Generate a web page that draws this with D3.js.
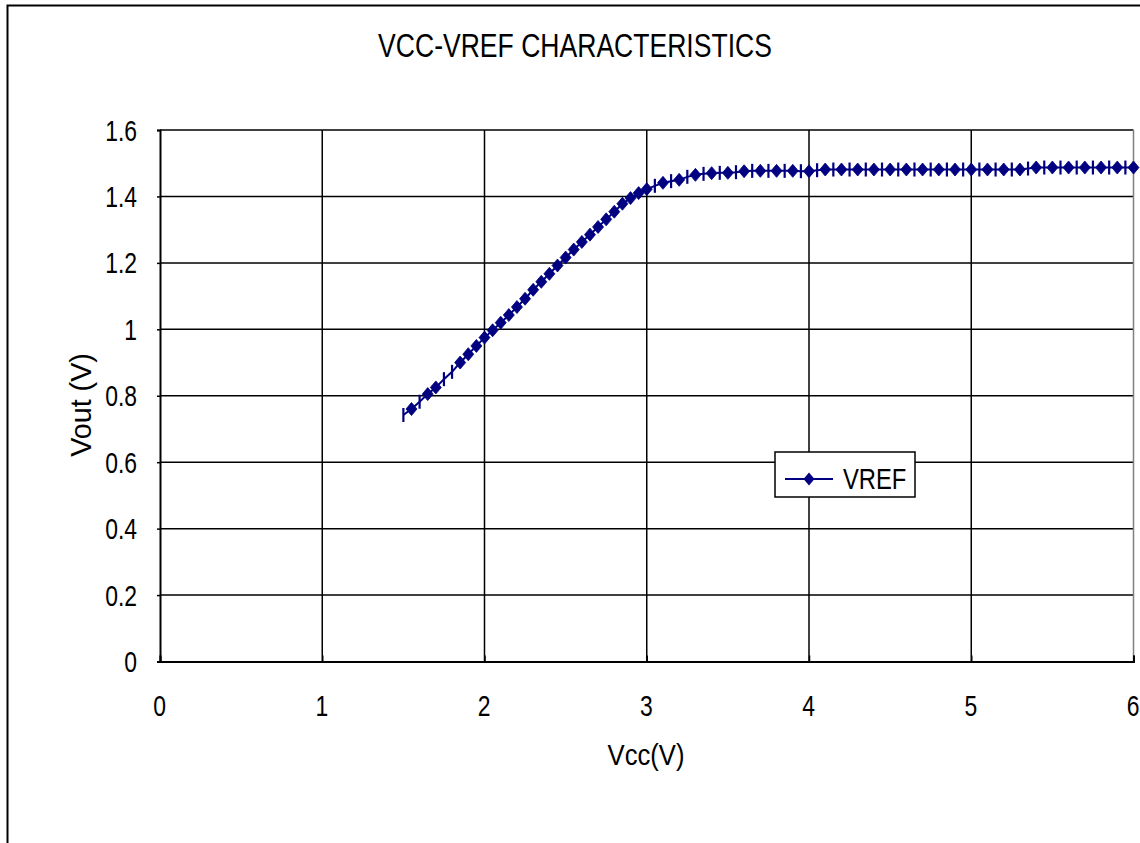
<!DOCTYPE html>
<html>
<head>
<meta charset="utf-8">
<script src="https://cdn.jsdelivr.net/npm/d3@7/dist/d3.min.js"></script>
<style>
  html, body { margin: 0; padding: 0; background: #fff; }
  svg { display: block; }
  text { font-family: "Liberation Sans", Arial, sans-serif; fill: #000; }
</style>
</head>
<body>
<svg id="chart" width="1140" height="843"></svg>
<script>
// ---- data ----
const chartTitle = "VCC-VREF CHARACTERISTICS";
const xTitle = "Vcc(V)";
const yTitle = "Vout (V)";
const seriesName = "VREF";
const xTicks = [0, 1, 2, 3, 4, 5, 6];
const yTicks = [0, 0.2, 0.4, 0.6, 0.8, 1, 1.2, 1.4, 1.6];

// points drawn with diamond markers
const vccDiamond = [1.55, 1.65, 1.70, 1.85, 1.90, 1.95, 2.00, 2.05, 2.10, 2.15, 2.20, 2.25, 2.30, 2.35,
  2.40, 2.45, 2.50, 2.55, 2.60, 2.65, 2.70, 2.75, 2.80, 2.85, 2.90, 2.95, 3.00,
  3.10, 3.20, 3.30, 3.40, 3.50, 3.60, 3.70, 3.80, 3.90, 4.00, 4.10, 4.20, 4.30, 4.40, 4.50,
  4.60, 4.70, 4.80, 4.90, 5.00, 5.10, 5.20, 5.30, 5.40, 5.50, 5.60, 5.70, 5.80, 5.90, 6.00];
const voutDiamond = [0.760, 0.805, 0.825, 0.900, 0.925, 0.950, 0.975, 0.997, 1.020, 1.043, 1.067, 1.092, 1.119, 1.143,
  1.167, 1.192, 1.216, 1.240, 1.263, 1.285, 1.308, 1.331, 1.354, 1.378, 1.395, 1.410, 1.422,
  1.441, 1.450, 1.465, 1.470, 1.471, 1.476, 1.477, 1.477, 1.477, 1.476, 1.481, 1.481, 1.481, 1.481, 1.481,
  1.481, 1.481, 1.481, 1.481, 1.481, 1.481, 1.481, 1.481, 1.487, 1.487, 1.487, 1.487, 1.487, 1.487, 1.487];

// points drawn with short vertical bar markers
const vccBar = [1.50, 1.60, 1.75, 1.80, 3.05, 3.15, 3.25, 3.35, 3.45, 3.55, 3.65, 3.75, 3.85, 3.95,
  4.05, 4.15, 4.25, 4.35, 4.45, 4.55, 4.65, 4.75, 4.85, 4.95, 5.05, 5.15, 5.25, 5.35,
  5.45, 5.55, 5.65, 5.75, 5.85, 5.95];
const voutBar = [0.742, 0.782, 0.850, 0.872, 1.432, 1.446, 1.459, 1.468, 1.471, 1.473, 1.477, 1.477, 1.477, 1.476,
  1.479, 1.481, 1.481, 1.481, 1.481, 1.481, 1.481, 1.481, 1.481, 1.481, 1.481, 1.481, 1.481, 1.484,
  1.487, 1.487, 1.487, 1.487, 1.487, 1.487];

// ---- drawing ----
const svg = d3.select("#chart");
const plot = { left: 160, top: 130, right: 1133.5, bottom: 661.5 };
const x = d3.scaleLinear().domain([0, 6]).range([plot.left, plot.right]);
const y = d3.scaleLinear().domain([0, 1.6]).range([plot.bottom, plot.top]);
const navy = "#000080";
const fontSize = 29;
const narrow = 0.79;

// outer chart border (extends beyond view at right/bottom)
svg.append("rect").attr("x", 7.5).attr("y", 5.5).attr("width", 1200).attr("height", 900)
  .attr("fill", "#fff").attr("stroke", "#000").attr("stroke-width", 2);

// gridlines
svg.append("g").selectAll("line").data(yTicks.slice(1)).join("line")
  .attr("x1", plot.left).attr("x2", plot.right)
  .attr("y1", d => y(d)).attr("y2", d => y(d))
  .attr("stroke", "#000").attr("stroke-width", 1.5);
svg.append("g").selectAll("line").data(xTicks.slice(1, -1)).join("line")
  .attr("y1", plot.top).attr("y2", plot.bottom)
  .attr("x1", d => x(d)).attr("x2", d => x(d))
  .attr("stroke", "#000").attr("stroke-width", 1.5);

// plot border right (gray)
svg.append("line").attr("x1", plot.right).attr("x2", plot.right)
  .attr("y1", plot.top).attr("y2", plot.bottom).attr("stroke", "#808080").attr("stroke-width", 1.5);

// axes
const yAxis = d3.axisLeft(y).tickValues(yTicks).tickSize(3).tickFormat(d => d3.format("~g")(d));
const xAxis = d3.axisBottom(x).tickValues(xTicks).tickSize(-6).tickFormat(d3.format("d"));

const gy = svg.append("g").attr("transform", `translate(${plot.left},0)`).call(yAxis);
const gx = svg.append("g").attr("transform", `translate(0,${plot.bottom})`).call(xAxis);
[gx, gy].forEach(g => {
  g.select(".domain").attr("stroke", "#000").attr("stroke-width", 2);
  g.selectAll(".tick line").attr("stroke", "#000").attr("stroke-width", 1.5);
  g.selectAll(".tick text").attr("font-size", fontSize).attr("fill", "#000")
    .style("font-family", "'Liberation Sans', Arial, sans-serif");
});
gy.selectAll(".tick text").attr("x", 0).attr("dy", null).attr("y", 0)
  .attr("text-anchor", "end")
  .attr("transform", `translate(-23,10) scale(${narrow},1)`);
gx.selectAll(".tick text").attr("x", 0).attr("dy", null).attr("y", 0)
  .attr("transform", `translate(-1,54.5) scale(${narrow},1)`);

// series data merged for the line
const pts = vccDiamond.map((v, i) => ({ x: v, y: voutDiamond[i], m: "d" }))
  .concat(vccBar.map((v, i) => ({ x: v, y: voutBar[i], m: "b" })))
  .sort((a, b) => a.x - b.x);

const line = d3.line().x(d => x(d.x)).y(d => y(d.y));
svg.append("path").datum(pts).attr("d", line)
  .attr("fill", "none").attr("stroke", navy).attr("stroke-width", 2);

// bar markers
svg.append("g").selectAll("line").data(pts.filter(p => p.m === "b")).join("line")
  .attr("x1", d => x(d.x)).attr("x2", d => x(d.x))
  .attr("y1", d => y(d.y) - 7).attr("y2", d => y(d.y) + 7)
  .attr("stroke", navy).attr("stroke-width", 2.2);

// diamond markers
const diamond = (cx, cy, w, h) => `M${cx},${cy - h}L${cx + w},${cy}L${cx},${cy + h}L${cx - w},${cy}Z`;
svg.append("g").selectAll("path").data(pts.filter(p => p.m === "d")).join("path")
  .attr("d", d => diamond(x(d.x), y(d.y), 5.5, 6.5))
  .attr("fill", navy).attr("stroke", navy).attr("stroke-width", 0.8);

// text helper: condensed look via horizontal scale
function label(str, tx, ty, size, sx, anchor, rot) {
  return svg.append("text")
    .attr("transform", `translate(${tx},${ty})${rot ? ` rotate(${rot})` : ""} scale(${sx},1)`)
    .attr("text-anchor", anchor).attr("font-size", size).text(str);
}

// title and axis titles
label(chartTitle, 575, 57, 33, 0.805, "middle");
label(xTitle, 646, 765, fontSize, 0.885, "middle");
label(yTitle, 91, 405, fontSize, 0.99, "middle", -90);

// legend
const lg = svg.append("g");
lg.append("rect").attr("x", 775).attr("y", 452).attr("width", 140).attr("height", 45)
  .attr("fill", "#fff").attr("stroke", "#000").attr("stroke-width", 1.5);
lg.append("line").attr("x1", 785).attr("x2", 833).attr("y1", 479).attr("y2", 479)
  .attr("stroke", navy).attr("stroke-width", 2);
lg.append("path").attr("d", diamond(809, 479, 5.5, 6.5)).attr("fill", navy);
label(seriesName, 843, 489, fontSize, 0.82, "start");
</script>
</body>
</html>
